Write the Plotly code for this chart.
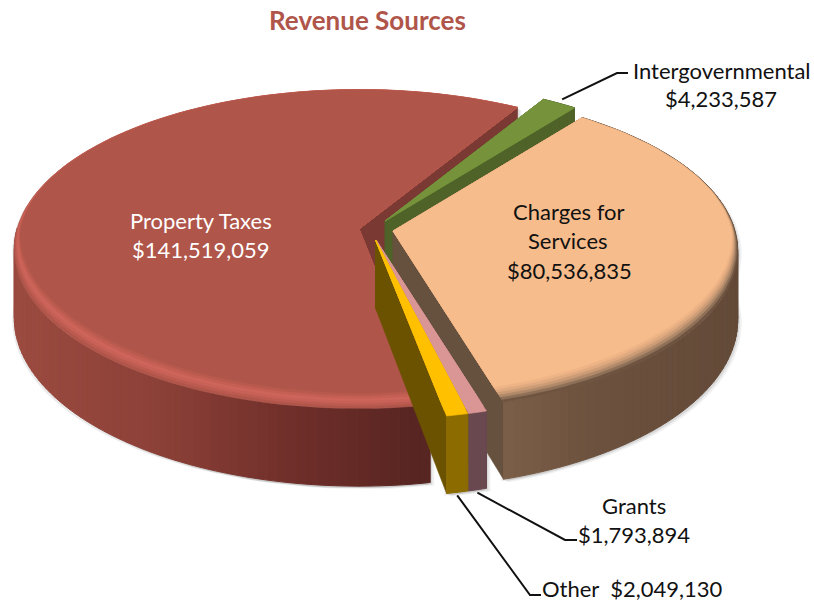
import math
import plotly.graph_objects as go

# ---- data ----
categories = ["Charges for Services", "Grants", "Other", "Property Taxes", "Intergovernmental"]
values = [80536835, 1793894, 2049130, 141519059, 4233587]
title_text = "Revenue Sources"
top_colors = ["#F6BC8C", "#D99694", "#FFC000", "#B0554A", "#76933C"]
edge_wall_colors = ["#66503E", "#6A4850", "#6B5200", "#7A3A33", "#4F6228"]
rim_colors = [
    ["#6E5440", "#8F7058", "#B08A6A", "#CC9C76", "#E0AA80", "#EEB486"],
    ["#D99694", "#D99694", "#D99694"],
    ["#FFC000", "#FFC000", "#FFC000"],
    ["#B0554A", "#BC5B50", "#C86158", "#CE655A", "#C55F54", "#B95A4E"],
    ["#5F7A30", "#6A8636", "#76933C"],
]
wall_ramps = [
    [(0.0, "#644A38"), (0.6, "#6D523F"), (1.0, "#7D6049")],
    [(0.0, "#6A4850"), (1.0, "#6A4850")],
    [(0.0, "#8C6C00"), (1.0, "#8C6C00")],
    [(0.0, "#572522"), (0.3, "#6E2E2A"), (0.65, "#8C4138"), (1.0, "#9C4B40")],
    [(0.0, "#4F6228"), (1.0, "#4F6228")],
]

# ---- projection parameters (page pixels) ----
START = 37.5
CX, CY = 376, 228
EXPLODE = [(17, 3), (0, 12), (-0.5, 12), (-17, 1), (9, -7)]
A, B, K = 342, 157, 0.125
DEPTH = 68


def hex2rgb(h):
    return tuple(int(h[i:i + 2], 16) for i in (1, 3, 5))


def ramp(stops, t):
    t = max(0, min(1, t))
    for (t0, c0), (t1, c1) in zip(stops, stops[1:]):
        if t <= t1:
            f = (t - t0) / (t1 - t0)
            a, b = hex2rgb(c0), hex2rgb(c1)
            return "rgb(%d,%d,%d)" % tuple(a[i] + (b[i] - a[i]) * f for i in range(3))
    return stops[-1][1]


def project(ax, ay, th, r=1.0, drop=0.0):
    X = r * math.sin(math.radians(th))
    Y = -r * math.cos(math.radians(th))
    w = 1 / (1 - K * Y)
    return ax + A * X * w, ay + B * Y * w + drop * DEPTH * w


def arc(t0, t1, n):
    return [t0 + (t1 - t0) * i / n for i in range(n + 1)]


fig = go.Figure()


def poly(pts, color, opacity=None, lw=0.6):
    xs = [p[0] for p in pts] + [pts[0][0]]
    ys = [p[1] for p in pts] + [pts[0][1]]
    fig.add_trace(go.Scatter(x=xs, y=ys, mode="lines", fill="toself", fillcolor=color,
                             line=dict(color=color, width=lw), hoverinfo="skip",
                             showlegend=False, opacity=opacity))


total = sum(values)
spans = [v / total * 360 for v in values]
angles, cur = [], START
for s in spans:
    angles.append((cur, cur + s))
    cur += s

apex = [(CX + dx, CY + dy) for dx, dy in EXPLODE]


def silhouette(i, off=(0, 0)):
    t0, t1 = angles[i]
    ax, ay = apex[i]
    n = max(6, int((t1 - t0) / 3))
    pts = [project(ax, ay, t, 1, 1) for t in arc(t0, t1, n)]
    pts += [project(ax, ay, t, 1, 0) for t in arc(t1, t0, n)]
    return [(x + off[0], y + off[1]) for x, y in pts]


# soft shadow below the cylinder
for i in [3, 0, 1, 2]:
    for off, op in [((4, 3), 0.10), ((2, 2), 0.18), ((-2, 2), 0.15)]:
        poly(silhouette(i, off), "#707070", op, 0)


def draw_slice(i):
    t0, t1 = angles[i]
    ax, ay = apex[i]
    for t in (t1, t0):
        poly([(ax, ay), project(ax, ay, t), project(ax, ay, t, 1, 1), (ax, ay + DEPTH)],
             edge_wall_colors[i])
    n = max(2, int((t1 - t0) / 1.5))
    ts = arc(t0, t1, n)
    for a, b in zip(ts, ts[1:]):
        mid = (a + b) / 2
        if i == 3 and math.cos(math.radians(mid)) > 0:
            continue  # the far side of the wall stays hidden
        xm = project(ax, ay, mid)[0]
        if i == 0:
            col = ramp(wall_ramps[0], 1 - (xm - 497) / (730 - 497))
        elif i == 3:
            col = ramp(wall_ramps[3], 1 - (xm - 15) / (425 - 15))
        else:
            col = wall_ramps[i][0][1]
        poly([project(ax, ay, a), project(ax, ay, b), project(ax, ay, b, 1, 1), project(ax, ay, a, 1, 1)], col, None, 1)
    levels = rim_colors[i] + [top_colors[i]]
    m = max(4, int((t1 - t0) / 2))
    for lv, col in enumerate(levels):
        f = lv / (len(levels) - 1)
        pts = [(ax, ay)]
        for t in arc(t0, t1, m):
            X = math.sin(math.radians(t))
            Y = -math.cos(math.radians(t))
            r = 1 - f * (0.004 + 0.020 * abs(X) * max(0, 0.3 + Y) + 0.07 * max(0, Y))
            pts.append(project(ax, ay, t, r))
        poly(pts, col)


for i in [3, 4, 0, 1, 2]:
    draw_slice(i)

# ---- labels and leader lines ----
FONT = "Lato, Carlito, Calibri, sans-serif"
TXT = 22


def leader(path, color="#111111"):
    fig.add_trace(go.Scatter(x=[p[0] for p in path], y=[p[1] for p in path], mode="lines",
                             line=dict(color=color, width=2), hoverinfo="skip", showlegend=False))


def money(v):
    return "$" + format(v, ",")


def lab(x, y, text, color="#111111"):
    fig.add_annotation(x=x, y=y, text=text, showarrow=False, xanchor="center", yanchor="middle",
                       font=dict(family=FONT, size=TXT, color=color), align="center")


p0 = project(apex[4][0], apex[4][1], sum(angles[4]) / 2, 1.0)
leader([(p0[0] + 3, p0[1] - 4), (617, 73), (628, 73)])
p1 = project(apex[1][0], apex[1][1], sum(angles[1]) / 2, 1, 1)
leader([(p1[0], p1[1] + 3), (565, 540), (577, 540)])
p2 = project(apex[2][0], apex[2][1], sum(angles[2]) / 2, 1, 1)
leader([(p2[0], p2[1] + 3), (530, 595), (541, 595)])

lab(722, 70, categories[4])
lab(721, 98, money(values[4]))
lab(201, 220, categories[3], "#FFFFFF")
lab(201, 249, money(values[3]), "#FFFFFF")
lab(569, 211, "Charges for")
lab(568, 240, "Services")
lab(569, 270, money(values[0]))
lab(634, 505, categories[1])
lab(634, 534, money(values[1]))
lab(632, 588, categories[2] + "  " + money(values[2]))

fig.add_annotation(x=367, y=20, text="<b>" + title_text + "</b>", showarrow=False,
                   font=dict(family=FONT, size=26, color="#B0554A"), xanchor="center", yanchor="middle")

fig.update_layout(width=814, height=603, margin=dict(l=0, r=0, t=0, b=0),
                  paper_bgcolor="white", plot_bgcolor="white", showlegend=False,
                  xaxis=dict(range=[0, 814], visible=False, fixedrange=True),
                  yaxis=dict(range=[603, 0], visible=False, fixedrange=True))
fig.write_html("out.html", config={"displayModeBar": False},
               post_script="document.body.style.margin='0';document.documentElement.style.overflow='hidden';")
